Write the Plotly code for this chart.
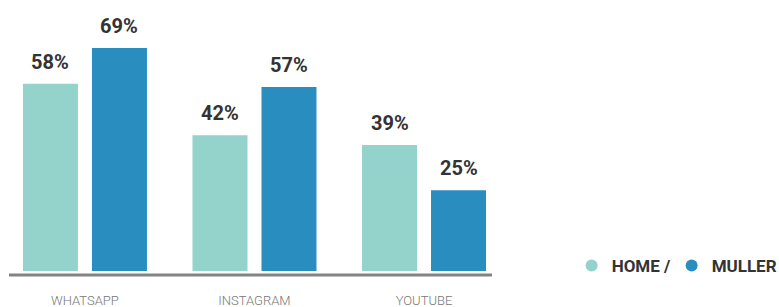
import plotly.graph_objects as go

categories = ["WHATSAPP", "INSTAGRAM", "YOUTUBE"]
home_values = [58, 42, 39]
muller_values = [69, 57, 25]
series_names = ["HOME /", "MULLER"]
series_colors = ["#93D3CB", "#2A8DC0"]

W, H = 779, 307
bold_font = "Roboto, Liberation Sans, sans-serif"

fig = go.Figure()
for name, vals, col in zip(series_names, [home_values, muller_values], series_colors):
    fig.add_trace(go.Bar(
        x=categories, y=vals, name=name, marker=dict(color=col, line=dict(width=0)),
        showlegend=False, hoverinfo="skip",
    ))
# legend entries as circles, one legend each
legend_ids = ["legend", "legend2"]
for name, col, lid in zip(series_names, series_colors, legend_ids):
    fig.add_trace(go.Scatter(
        x=[None], y=[None], mode="markers", name=name, legend=lid,
        marker=dict(symbol="circle", size=12, color=col), showlegend=True,
    ))

# value labels above bars
offsets = [-34.5, 34.5]
for off, vals in zip(offsets, [home_values, muller_values]):
    for c, v in zip(categories, vals):
        fig.add_annotation(
            x=c, y=v, text=f"<b>{v}%</b>", showarrow=False,
            xshift=off, yshift=8, yanchor="bottom",
            font=dict(family=bold_font, size=20, color="#333333"),
        )

fig.add_shape(type="line", xref="paper", x0=0, x1=1, yref="paper", ysizemode="pixel",
              yanchor=0, y0=-4, y1=-4, line=dict(color="#858282", width=3))

legend_style = dict(orientation="h", xref="container", yref="container",
                    y=1 - 266 / H, xanchor="left", yanchor="middle",
                    font=dict(family=bold_font, size=17, color="#333333", weight="bold"),
                    itemsizing="constant", itemwidth=30, bgcolor="rgba(0,0,0,0)")

fig.update_layout(
    width=W, height=H,
    margin=dict(l=9, r=287, t=10, b=36, autoexpand=False),
    paper_bgcolor="white", plot_bgcolor="white",
    bargap=0.186, bargroupgap=0.203, barmode="group",
    xaxis=dict(range=[-0.448, 2.401], showgrid=False, zeroline=False, showline=False,
               ticks="", automargin=False,
               tickfont=dict(family=bold_font, size=13, color="#777777", weight=300),
               ticklabelstandoff=20),
    yaxis=dict(range=[0, 80.8], visible=False, automargin=False),
    legend=dict(x=0.7338, **legend_style),
    legend2=dict(x=0.7338 + 100 / W, **legend_style),
    showlegend=True,
)

fig.write_html("out.html", config={"displayModeBar": False},
               post_script="document.body.style.margin='0';")
